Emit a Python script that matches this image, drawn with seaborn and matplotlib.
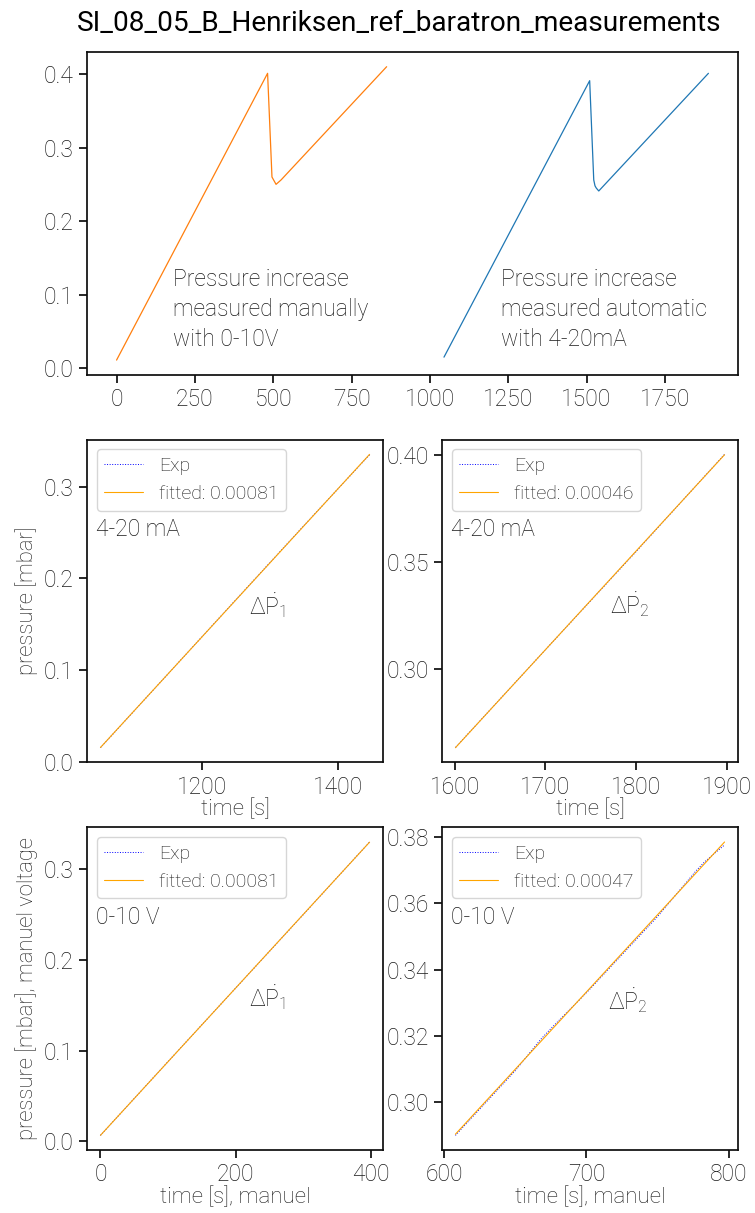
import numpy as np
import pandas as pd
import matplotlib
matplotlib.use('Agg')
import matplotlib.pyplot as plt
import seaborn as sns

#Overview curves (top panel)
manual_t = [0, 482, 496, 509, 525, 862]
manual_p = [0.011, 0.401, 0.260, 0.250, 0.256, 0.410]
auto_t = [1045, 1510, 1523, 1527, 1531, 1539, 1889]
auto_p = [0.015, 0.391, 0.256, 0.248, 0.245, 0.241, 0.401]

#Exp points for the four fit panels
mA1_t = [1051, 1150, 1250, 1350, 1446]
mA1_p = [0.0153, 0.0957, 0.1770, 0.2580, 0.3350]
mA2_t = [1601, 1700, 1800, 1897]
mA2_p = [0.2633, 0.3090, 0.3550, 0.4003]
V1_t = [0, 100, 200, 300, 398]
V1_p = [0.0066, 0.0880, 0.1690, 0.2500, 0.3300]
V2_t = [608, 650, 668, 675, 700, 750, 777, 783, 797]
V2_p = [0.2900, 0.3095, 0.3190, 0.3222, 0.3330, 0.3560, 0.3698, 0.3725, 0.3776]

fit_labels = ['fitted: 0.00081', 'fitted: 0.00046', 'fitted: 0.00081', 'fitted: 0.00047']
signal_labels = ['4-20 mA', '4-20 mA', '0-10 V', '0-10 V']
dp_labels = [r'$\Delta\dot{P}_1$', r'$\Delta\dot{P}_2$', r'$\Delta\dot{P}_1$', r'$\Delta\dot{P}_2$']
dp_pos = [(1269, 0.161), (1771, 0.326), (220, 0.149), (715, 0.328)]

sns.set_theme(style='ticks', context='notebook', font_scale=1.5)
plt.rcParams['font.family'] = ['Roboto', 'DejaVu Sans']
plt.rcParams['font.weight'] = 'light'
plt.rcParams['axes.labelweight'] = 'light'
plt.rcParams['mathtext.default'] = 'regular'
plt.rcParams['axes.edgecolor'] = '.05'
plt.rcParams['xtick.color'] = '.05'
plt.rcParams['ytick.color'] = '.05'
plt.rcParams['xtick.labelcolor'] = '.1'
plt.rcParams['ytick.labelcolor'] = '.1'
plt.rcParams['text.color'] = '.1'
plt.rcParams['axes.labelcolor'] = '.1'
plt.rcParams['xtick.labelsize'] = 16.5
plt.rcParams['ytick.labelsize'] = 16.5

fig = plt.figure(figsize=(7.55, 12.13), dpi=100)
gs = fig.add_gridspec(3, 2, left=0.1152, right=0.9775, top=0.9571, bottom=0.0519,
                      hspace=0.2012, wspace=0.199)
ax_top = fig.add_subplot(gs[0, :])
axs = [fig.add_subplot(gs[1, 0]), fig.add_subplot(gs[1, 1]),
       fig.add_subplot(gs[2, 0]), fig.add_subplot(gs[2, 1])]

#Top overview
sns.lineplot(x=manual_t, y=manual_p, color='#ff7f0e', lw=0.9, ax=ax_top)
sns.lineplot(x=auto_t, y=auto_p, color='#1f77b4', lw=0.9, ax=ax_top)
ax_top.xaxis.set_major_locator(plt.MultipleLocator(250))
ax_top.text(180, 0.03, 'Pressure increase\nmeasured manually\nwith 0-10V', fontsize=16.5,
            va='baseline', linespacing=1.38)
ax_top.text(1228, 0.03, 'Pressure increase\nmeasured automatic\nwith 4-20mA', fontsize=16.5,
            va='baseline', linespacing=1.38)

#Fit panels
exp_t = [mA1_t, mA2_t, V1_t, V2_t]
exp_p = [mA1_p, mA2_p, V1_p, V2_p]
for i, ax in enumerate(axs):
    t = np.array(exp_t[i])
    p = np.array(exp_p[i])
    coef = np.polyfit(t, p, 1)
    sns.lineplot(x=t, y=p, color='blue', linestyle=':', lw=0.7, label='Exp', ax=ax)
    sns.lineplot(x=t, y=np.polyval(coef, t), color='orange', lw=0.8, label=fit_labels[i], ax=ax)
    ax.legend(loc='upper left', fontsize=14, handlelength=2.0)
    ax.text(0.03, 0.70, signal_labels[i], transform=ax.transAxes, fontsize=16.5, va='baseline')
    ax.text(dp_pos[i][0], dp_pos[i][1], dp_labels[i], fontsize=16.5, va='baseline')

axs[1].yaxis.set_major_locator(plt.MultipleLocator(0.05))
axs[3].yaxis.set_major_locator(plt.MultipleLocator(0.02))
axs[0].set_ylabel('pressure [mbar]', fontsize=15.8)
axs[2].set_ylabel('pressure [mbar], manuel voltage', fontsize=15.8)
axs[0].set_xlabel('time [s]', fontsize=16, labelpad=0)
axs[1].set_xlabel('time [s]', fontsize=16, labelpad=0)
axs[2].set_xlabel('time [s], manuel', fontsize=16, labelpad=0)
axs[3].set_xlabel('time [s], manuel', fontsize=16, labelpad=0)

fig.suptitle('SI_08_05_B_Henriksen_ref_baratron_measurements', x=0.528, y=0.992,
             fontsize=20.2, fontweight='normal', color='black')

plt.savefig('out.png', dpi=100)
